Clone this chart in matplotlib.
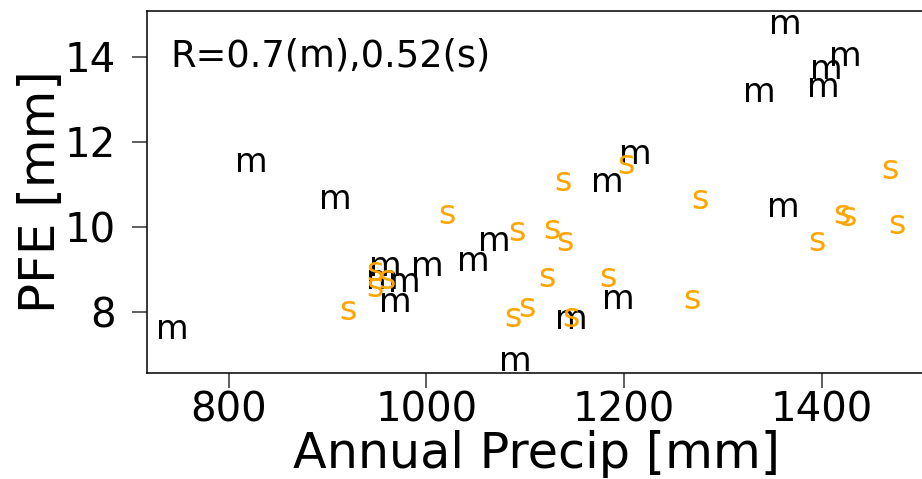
import matplotlib
matplotlib.use("Agg")
from matplotlib import pyplot as plt
from matplotlib import transforms
import numpy as np

# stations: annual precip [mm] vs PFE [mm], "m" and "s" groups
precip_m = [743, 823, 908, 1363, 1424, 1405, 1402, 1337, 1211, 1183, 1361,
            1069, 1047, 1001, 958, 955, 978, 968, 1090, 1194, 1147]
pfe_m = [7.57, 11.50, 10.63, 14.75, 13.99, 13.69, 13.26, 13.14, 11.69, 11.03, 10.44,
         9.64, 9.17, 9.05, 9.05, 8.74, 8.67, 8.20, 6.81, 8.27, 7.80]

precip_s = [1021, 1092, 948, 960, 948, 920, 1088, 1102, 1138, 1202, 1469,
            1277, 1127, 1140, 1421, 1427, 1476, 1395, 1122, 1184, 1146, 1269]
pfe_s = [10.27, 9.88, 8.93, 8.74, 8.55, 8.01, 7.85, 8.08, 11.05, 11.45, 11.33,
         10.63, 9.93, 9.64, 10.27, 10.23, 10.04, 9.64, 8.79, 8.79, 7.85, 8.27]

x_ticks = [800, 1000, 1200, 1400]
y_ticks = [8, 10, 12, 14]
annot = "R=0.7(m),0.52(s)"

plt.rcParams['font.family'] = ['DejaVu Sans']

fig = plt.figure(figsize=(9.22, 4.79), dpi=100)
ax = fig.add_axes([147 / 922, 106 / 479, 778 / 922, 362 / 479])
ax.set_xlim(717.0, 1504.8)
ax.set_ylim(6.558, 15.07)

mark_size = 24
# shift so the letter's x-height centre sits on the data point
shift = transforms.offset_copy(ax.transData, fig=fig, x=0, y=-0.2735 * mark_size, units='points')
for x, y in zip(precip_m, pfe_m):
    ax.text(x, y, "m", color='black', fontsize=mark_size, ha='center', va='baseline',
            transform=shift, clip_on=True)
for x, y in zip(precip_s, pfe_s):
    ax.text(x, y, "s", color='#FFA500', fontsize=mark_size, ha='center', va='baseline',
            transform=shift, clip_on=True)

ax.text(741, 13.76, annot, fontsize=26.5, ha='left', va='baseline')

ax.set_xticks(x_ticks)
ax.set_yticks(y_ticks)
ax.tick_params(axis='both', which='major', labelsize=29, length=10.5, width=1.1, color='#333333')
ax.tick_params(axis='x', pad=2)
ax.tick_params(axis='y', pad=12)
for sp in ax.spines.values():
    sp.set_linewidth(1.1)
    sp.set_color('black')

ax.set_xlabel("Annual Precip [mm]", fontsize=35.5, labelpad=0)
ax.set_ylabel("PFE [mm]", fontsize=36)
ax.yaxis.set_label_coords((41 - 147) / 778, 0.5)
ax.yaxis.label.set_va('center')

fig.savefig("out.png", dpi=100)
